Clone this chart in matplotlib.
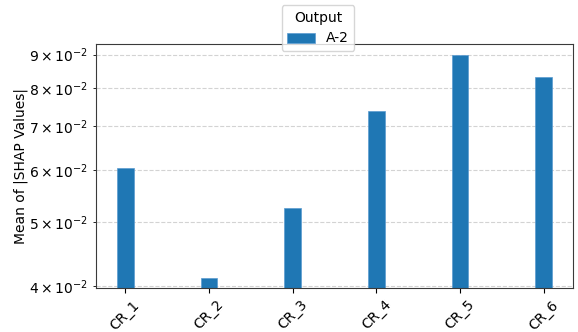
import matplotlib
matplotlib.use("Agg")
import matplotlib.pyplot as plt
import numpy as np

categories = ["CR_1", "CR_2", "CR_3", "CR_4", "CR_5", "CR_6"]
series_name = "A-2"
mean_shap = [0.0604, 0.0412, 0.0526, 0.0738, 0.0898, 0.0832]

fig = plt.figure(figsize=(5.78, 3.32), dpi=100)
ax = fig.add_axes([0.166, 0.1325, 0.8253, 0.735])

x = np.arange(len(categories))
ax.bar(x, mean_shap, width=0.2, color="#1f77b4", edgecolor="#5b9bd0",
       linewidth=0.5, label=series_name)

ax.set_yscale("log")
ax.set_ylim(0.03972, 0.0934)
ax.set_xlim(-0.35, len(categories) - 1 + 0.35)
ax.set_xticks(x)
ax.set_xticklabels(categories, rotation=45, ha="center")
ax.set_ylabel("Mean of |SHAP Values|")
ax.yaxis.set_label_coords(-0.143, 0.5)

ax.yaxis.grid(True, which="both", linestyle="--", color="#d3d3d3", linewidth=0.8)
ax.set_axisbelow(True)
for s in ax.spines.values():
    s.set_color("#3a3a3a")

fig.legend(title="Output", loc="upper center", borderaxespad=0,
           bbox_to_anchor=(318 / 578, 1 - 5 / 332),
           bbox_transform=fig.transFigure)

fig.savefig("out.png", dpi=100)
